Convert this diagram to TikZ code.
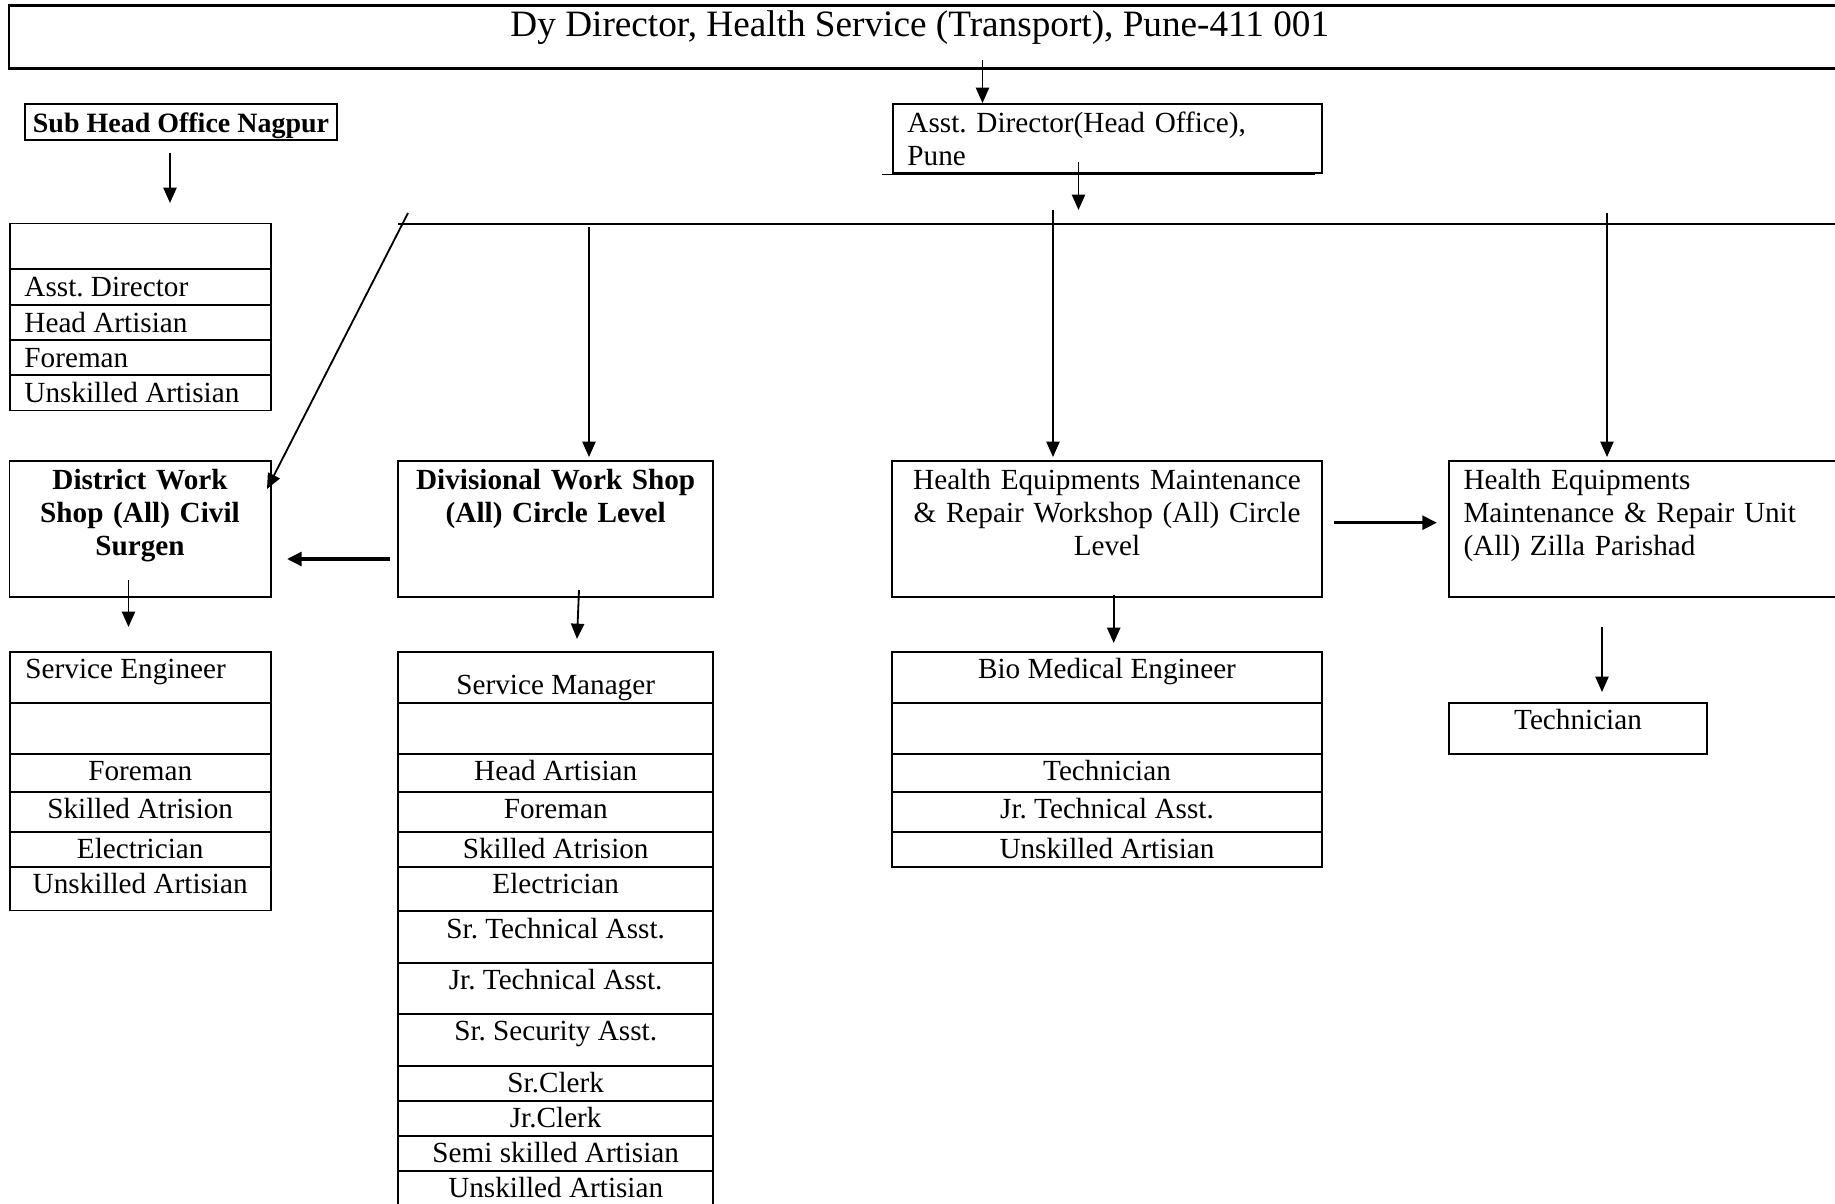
\documentclass[tikz,border=0pt]{standalone}
\usepackage{fontspec}
\setmainfont{Liberation Serif}
\usetikzlibrary{arrows.meta,fit}
\frenchspacing
\begin{document}
\begin{tikzpicture}[x=0.411pt,y=-0.411pt,
  box/.style={draw, line width=0.8pt, inner sep=0pt},
  rowline/.style={line width=0.8pt},
  txt/.style={inner sep=0pt, font=\fontsize{12}{13.7}\selectfont},
  btxt/.style={inner sep=0pt, font=\fontsize{12}{13.7}\selectfont\bfseries},
  conn/.style={line width=0.75pt, -{Triangle[length=6.3pt,width=5.4pt]}},
  bigconn/.style={line width=1.4pt, -{Triangle[length=6pt,width=5.6pt]}}]
\useasboundingbox (0,0) rectangle (1835,1204);
\clip (0,0) rectangle (1835,1204);
\fill[white] (0,0) rectangle (1835,1204);

% top box
\node[box, line width=0.9pt, fit={(9,5.5) (1860,68.5)}] (top) {};
\node[inner sep=0pt, anchor=base west, font=\fontsize{15.3}{18}\selectfont] (toptxt) at (510,37) {Dy Director, Health Service (Transport), Pune-411 001};

% sub head office
\node[box, fit={(24.6,104.3) (337.4,140)}] (sub) {};
\node[btxt, font=\fontsize{11.5}{13.7}\selectfont\bfseries, anchor=base] (subtxt) at (181,132.5) {Sub Head Office Nagpur};

% asst director head office
\node[box, fit={(892.7,104) (1321.7,172.7)}] (ad) {};
\draw[rowline] (882,174.5) -- (1315,174.5);
\node[txt, anchor=base west, text width=400pt, align=left] (adtxt) at (907,132) {Asst. Director(Head Office),\\Pune};

% bus
\coordinate (busL) at (398,224);
\coordinate (busR) at (1860,224);
\draw[rowline] (busL) -- (busR);

% nagpur table
\node[box, fit={(9.7,223.5) (270.8,410.5)}] (ntab) {};
\foreach \yy in {269.3,305.2,340,375.4}
  \draw[rowline] (ntab.west |- 0,\yy) -- (ntab.east |- 0,\yy);
\node[txt, anchor=base west] (n1) at (24,296.5) {Asst. Director};
\node[txt, anchor=base west] (n2) at (24,332) {Head Artisian};
\node[txt, anchor=base west] (n3) at (24,367) {Foreman};
\node[txt, anchor=base west] (n4) at (24,402) {Unskilled Artisian};

% level boxes
\node[box, fit={(9.5,461) (270.8,597)}] (dist) {};
\node[btxt, anchor=base, text width=150pt, align=center] (disttxt) at (140,489) {District Work\\Shop (All) Civil\\Surgen};

\node[box, fit={(398.4,461) (713,597)}] (div) {};
\node[btxt, anchor=base, text width=200pt, align=center] (divtxt) at (555.7,489) {Divisional Work Shop\\(All) Circle Level};

\node[box, fit={(892.3,461) (1322,597)}] (hw) {};
\node[txt, anchor=base, text width=250pt, align=center] (hwtxt) at (1107,489) {Health Equipments Maintenance\\\&~Repair Workshop (All) Circle\\Level};

\node[box, fit={(1449,461) (1860,597)}] (hu) {};
\draw[line width=1.2pt] (1449,597) -- (1726,597);
\node[txt, anchor=base west, text width=250pt, align=left] (hutxt) at (1463,489) {Health Equipments\\Maintenance \& Repair Unit\\(All) Zilla Parishad};

% service engineer table
\node[box, fit={(9.7,651.8) (270.8,910.5)}] (setab) {};
\foreach \yy in {702.9,753.9,792.2,832.2,867.1}
  \draw[rowline] (setab.west |- 0,\yy) -- (setab.east |- 0,\yy);
\node[txt, anchor=base west] (s1) at (25,678) {Service Engineer};
\node[txt, anchor=base] (s2) at (140.2,780.4) {Foreman};
\node[txt, anchor=base] (s3) at (140.2,818.7) {Skilled Atrision};
\node[txt, anchor=base] (s4) at (140.2,858.7) {Electrician};
\node[txt, anchor=base] (s5) at (140.2,893.6) {Unskilled Artisian};

% service manager table
\node[box, fit={(398.4,651.8) (713,1230)}] (smtab) {};
\foreach \yy in {702.9,753.9,792.2,832.2,867.1,911,962.8,1013.7,1065.9,1100.8,1136,1171}
  \draw[rowline] (smtab.west |- 0,\yy) -- (smtab.east |- 0,\yy);
\node[txt, anchor=base] (m1) at (555.7,694.5) {Service Manager};
\node[txt, anchor=base] (m2) at (555.7,780.4) {Head Artisian};
\node[txt, anchor=base] (m3) at (555.7,818.7) {Foreman};
\node[txt, anchor=base] (m4) at (555.7,858.7) {Skilled Atrision};
\node[txt, anchor=base] (m5) at (555.7,893.6) {Electrician};
\node[txt, anchor=base] (m6) at (555.7,938) {Sr. Technical Asst.};
\node[txt, anchor=base] (m7) at (555.7,989.3) {Jr. Technical Asst.};
\node[txt, anchor=base] (m8) at (555.7,1040.7) {Sr. Security Asst.};
\node[txt, anchor=base] (m9) at (555.7,1092.4) {Sr.Clerk};
\node[txt, anchor=base] (m10) at (555.7,1127.3) {Jr.Clerk};
\node[txt, anchor=base] (m11) at (555.7,1162.5) {Semi skilled Artisian};
\node[txt, anchor=base] (m12) at (555.7,1197.5) {Unskilled Artisian};

% bio medical table
\node[box, fit={(892.3,651.8) (1322,866.7)}] (btab) {};
\foreach \yy in {702.9,753.9,792.2,831.9}
  \draw[rowline] (btab.west |- 0,\yy) -- (btab.east |- 0,\yy);
\node[txt, anchor=base] (b1) at (1107,678) {Bio Medical Engineer};
\node[txt, anchor=base] (b2) at (1107,780.4) {Technician};
\node[txt, anchor=base] (b3) at (1107,818.7) {Jr. Technical Asst.};
\node[txt, anchor=base] (b4) at (1107,858.4) {Unskilled Artisian};

% technician box
\node[box, fit={(1449,702.9) (1707,753.9)}] (tech) {};
\node[txt, anchor=base] (techtxt) at (1578,729) {Technician};

% connectors
\coordinate (a1s) at (982.5,60);
\draw[conn] (a1s) -- (a1s |- ad.north);
\coordinate (a2s) at (1078.5,162);
\coordinate (a2e) at (1078.5,210);
\draw[conn] (a2s) -- (a2e);
\coordinate (a3s) at (170,153);
\coordinate (a3e) at (170,203);
\draw[conn] (a3s) -- (a3e);
\coordinate (a4s) at (408,213);
\coordinate (a4e) at (267,489);
\draw[conn] (a4s) -- (a4e);
\coordinate (a5s) at (589,227);
\coordinate (a5e) at (589,457);
\draw[conn] (a5s) -- (a5e);
\coordinate (a7s) at (1053,210);
\coordinate (a7e) at (1053,457);
\draw[conn] (a7s) -- (a7e);
\coordinate (a8s) at (1607,213);
\coordinate (a8e) at (1607,457);
\draw[conn] (a8s) -- (a8e);
\coordinate (a9s) at (390,559);
\coordinate (a9e) at (287,559);
\draw[bigconn] (a9s) -- (a9e);
\coordinate (a10s) at (1334,522.7);
\coordinate (a10e) at (1437,522.7);
\draw[bigconn] (a10s) -- (a10e);
\coordinate (a11s) at (128.5,580);
\coordinate (a11e) at (128.5,627);
\draw[conn] (a11s) -- (a11e);
\coordinate (a12s) at (579,590);
\coordinate (a12e) at (577,639);
\draw[conn] (a12s) -- (a12e);
\coordinate (a13s) at (1113.7,595);
\coordinate (a13e) at (1113.7,643);
\draw[conn] (a13s) -- (a13e);
\coordinate (a14s) at (1602,627);
\coordinate (a14e) at (1602,692);
\draw[conn] (a14s) -- (a14e);
\end{tikzpicture}
\end{document}
